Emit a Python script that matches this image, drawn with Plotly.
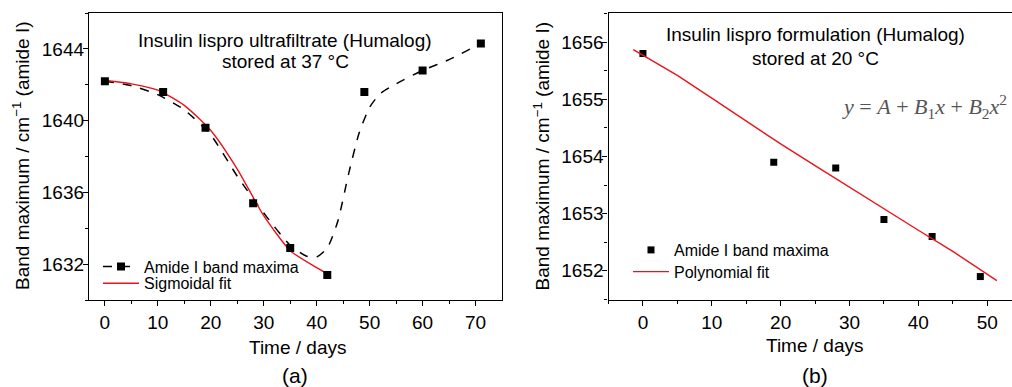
import plotly.graph_objects as go

W, H = 1012, 387

# ---------------- Data: panel (a) ----------------
a_days = [0, 11, 19, 28, 35, 42, 49, 60, 71]
a_band = [1642.2, 1641.6, 1639.6, 1635.4, 1632.9, 1631.4, 1641.6, 1642.8, 1644.3]

# dashed smoothed curve
a_curve_x = [0, 5, 10, 15, 20, 25, 30, 35, 38, 40, 42, 44, 46, 48, 50, 52, 55, 60, 65, 71]
a_curve_y = [1642.2, 1641.95, 1641.45, 1640.6, 1639.2, 1636.9, 1634.85, 1633.05, 1632.45,
             1632.4, 1632.9, 1634.4, 1637.0, 1639.3, 1640.75, 1641.5, 1642.05, 1642.8,
             1643.4, 1644.3]

# sigmoidal fit
a_fit_x = [0, 5, 10, 15, 20, 25, 30, 35, 40, 42]
a_fit_y = [1642.25, 1642.05, 1641.7, 1640.85, 1639.45, 1637.3, 1634.7, 1632.75, 1631.8, 1631.45]

# ---------------- Data: panel (b) ----------------
b_days = [0, 19, 28, 35, 42, 49]
b_band = [1655.8, 1653.9, 1653.8, 1652.9, 1652.6, 1651.9]

b_fit_x = [-1.4, 5, 10, 15, 20, 25, 30, 35, 40, 45, 51.4]
b_fit_y = [1655.87, 1655.42, 1655.02, 1654.62, 1654.22, 1653.84, 1653.46, 1653.08, 1652.71,
           1652.34, 1651.83]

a_xticks = [0, 10, 20, 30, 40, 50, 60, 70]
a_yticks = [1632, 1636, 1640, 1644]
b_xticks = [0, 10, 20, 30, 40, 50]
b_yticks = [1652, 1653, 1654, 1655, 1656]

FONT = "Liberation Sans, Arial, sans-serif"
RED = "#e8141c"

def px_x(p):
    return p / W

def px_y(p):
    return 1 - p / H

fig = go.Figure()

# Panel (a)
fig.add_trace(go.Scatter(x=a_curve_x, y=a_curve_y, mode="lines", xaxis="x", yaxis="y",
                         line=dict(color="black", width=1.5, dash="dash", shape="spline", smoothing=0.6),
                         showlegend=False, hoverinfo="skip"))
fig.add_trace(go.Scatter(x=a_fit_x, y=a_fit_y, mode="lines", xaxis="x", yaxis="y",
                         line=dict(color=RED, width=1.4, shape="spline", smoothing=0.6),
                         name="Sigmoidal fit", legend="legend2"))
fig.add_trace(go.Scatter(x=a_days, y=a_band, mode="markers", xaxis="x", yaxis="y",
                         marker=dict(symbol="square", size=8, color="black"),
                         showlegend=False))
fig.add_trace(go.Scatter(x=[None], y=[None], mode="lines+markers", xaxis="x", yaxis="y",
                         line=dict(color="black", width=1.5, dash="dash"),
                         marker=dict(symbol="square", size=8, color="black"),
                         name="Amide I band maxima", legend="legend"))

# Panel (b)
fig.add_trace(go.Scatter(x=b_days, y=b_band, mode="markers", xaxis="x2", yaxis="y2",
                         marker=dict(symbol="square", size=7, color="black"),
                         name="Amide I band maxima", legend="legend3"))
fig.add_trace(go.Scatter(x=b_fit_x, y=b_fit_y, mode="lines", xaxis="x2", yaxis="y2",
                         line=dict(color=RED, width=1.4),
                         name="Polynomial fit", legend="legend4"))

tickfont = dict(family=FONT, size=19, color="black")
dom_y = [px_y(300), px_y(13)]
a_dom = [px_x(89), px_x(501.5)]
b_dom = [px_x(608.5), 1.0]

def main_axis(**kw):
    d = dict(showline=True, linecolor="black", linewidth=1.3, mirror=True,
             ticks="outside", ticklen=5, tickwidth=1.2, tickcolor="black",
             showgrid=False, zeroline=False, tickfont=tickfont)
    d.update(kw)
    return d

def inner_axis(**kw):
    d = dict(showline=False, ticks="inside", ticklen=5, tickwidth=1.2, tickcolor="black",
             showgrid=False, zeroline=False, showticklabels=False)
    d.update(kw)
    return d

def mnr(kind, dt):
    return dict(ticks=kind, ticklen=3, tickwidth=1.1, tickcolor="black", dtick=dt, tick0=0, showgrid=False)

a_xr = [-3.0, 74.9]
a_yr = [1630.0, 1646.0]
b_xr = [-5.0, 53.6]
b_yr = [1651.49, 1656.51]

layout = dict(
    width=W, height=H,
    margin=dict(l=0, r=0, t=0, b=0),
    plot_bgcolor="white", paper_bgcolor="white",
    font=dict(family=FONT, color="black"),
    xaxis=main_axis(domain=a_dom, range=a_xr, anchor="y", tickvals=a_xticks, minor=mnr("outside", 5)),
    yaxis=main_axis(domain=dom_y, range=a_yr, anchor="x", tickvals=a_yticks, minor=mnr("outside", 2),
                    ticklabelstandoff=-5),
    xaxis3=inner_axis(overlaying="x", side="top", anchor="y", range=a_xr, tickvals=a_xticks, minor=mnr("inside", 5)),
    yaxis3=inner_axis(overlaying="y", side="right", anchor="x", range=a_yr, tickvals=a_yticks, minor=mnr("inside", 2)),
    xaxis2=main_axis(domain=b_dom, range=b_xr, anchor="y2", tickvals=b_xticks, minor=mnr("outside", 5)),
    yaxis2=main_axis(domain=dom_y, range=b_yr, anchor="x2", tickvals=b_yticks, minor=mnr("outside", 0.5),
                     ticklabelstandoff=-5),
    xaxis4=inner_axis(overlaying="x2", side="top", anchor="y2", range=b_xr, tickvals=b_xticks, minor=mnr("inside", 5)),
    yaxis4=inner_axis(overlaying="y2", side="right", anchor="x2", range=b_yr, tickvals=b_yticks, minor=mnr("inside", 0.5)),
)

legfont = dict(family=FONT, size=16, color="black")
def leg(xp, yp):
    return dict(x=px_x(xp), y=px_y(yp), xanchor="left", yanchor="middle",
                bgcolor="rgba(0,0,0,0)", borderwidth=0, font=legfont,
                itemwidth=36, tracegroupgap=0)

layout["legend"] = leg(98, 266.7)
layout["legend2"] = leg(98, 283.3)
layout["legend3"] = leg(628, 250)
layout["legend4"] = leg(628, 271.7)

fig.update_layout(**layout)

ann = []
def text(x, y, s, size=19, **kw):
    d = dict(x=px_x(x), y=px_y(y), xref="paper", yref="paper", text=s, showarrow=False,
             xanchor="center", yanchor="middle", font=dict(family=FONT, size=size, color="black"))
    d.update(kw)
    ann.append(d)

# panel titles
text(285, 40, "Insulin lispro ultrafiltrate (Humalog)")
text(285, 62, "stored at 37 °C")
text(815, 35, "Insulin lispro formulation (Humalog)")
text(815, 58, "stored at 20 °C")
# equation
ann.append(dict(x=px_x(924), y=px_y(106), xref="paper", yref="paper", showarrow=False,
                xanchor="center", yanchor="middle",
                text="<i>y</i> = <i>A</i> + <i>B</i><sub>1</sub><i>x</i> + <i>B</i><sub>2</sub><i>x</i><sup>2</sup>",
                font=dict(family="Liberation Serif, serif", size=22, color="#555555")))
# axis titles
text(298, 347, "Time / days")
text(815, 345, "Time / days")
text(21, 156, "Band maximum / cm<sup>−1</sup> (amide I)", textangle=-90)
text(541.5, 156, "Band maximum / cm<sup>−1</sup> (amide I)", textangle=-90)
# panel labels
text(295, 375, "(a)", size=21)
text(815, 375, "(b)", size=21)

fig.update_layout(annotations=ann)

fig.write_html("out.html", config={"displayModeBar": False},
               post_script="document.body.style.margin='0';document.body.style.padding='0';")
